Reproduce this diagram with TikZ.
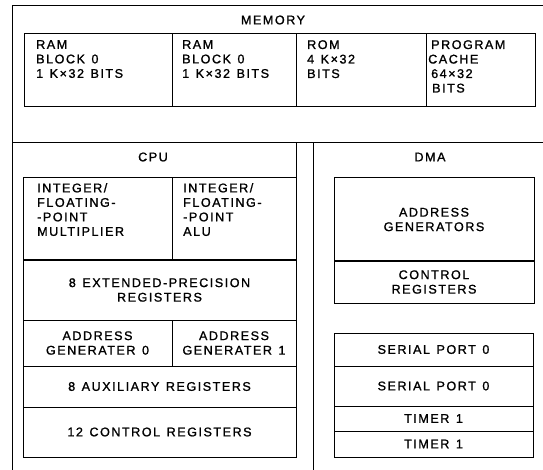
\documentclass[tikz,border=0pt]{standalone}
\usepackage{fontspec}
\newfontfamily\reff[LetterSpace=12,FakeBold=1.2,WordSpace=1.3]{Liberation Sans}
\begin{document}
\begin{tikzpicture}[x=1pt,y=-1pt,
  box/.style={draw, line width=1pt, inner sep=0pt, outer sep=0pt, anchor=north west},
  frame/.style={line width=1pt},
  txt/.style={font=\reff\fontsize{12.6}{14.5}\selectfont, align=left, inner sep=0pt, anchor=north west},
  ctxt/.style={font=\reff\fontsize{12.6}{14.5}\selectfont, align=center, inner sep=0pt}]
\useasboundingbox (0,0) rectangle (543,470);
% MEMORY
\draw[frame] (543,6) -- (12,6) -- (12,143) -- (543,143);
\node[ctxt] (memlbl) at (273,20) {MEMORY};
\node[box, minimum width=148pt, minimum height=73pt] (ram0) at (24,34) {};
\node[box, minimum width=124pt, minimum height=73pt] (ram1) at (172,34) {};
\node[box, minimum width=130pt, minimum height=73pt] (rom) at (296,34) {};
\node[box, minimum width=109pt, minimum height=73pt] (cache) at (426,34) {};
\node[txt] (ram0t) at (36,40) {RAM\\BLOCK 0\\1 K×32 BITS};
\node[txt] (ram1t) at (182,40) {RAM\\BLOCK 0\\1 K×32 BITS};
\node[txt] (romt) at (307,40) {ROM\\4 K×32\\BITS};
\node[txt] (cachet) at (428,40) {\hspace*{3pt}PROGRAM\\CACHE\\\hspace*{3pt}64×32\\\hspace*{4pt}BITS};
% CPU
\draw[frame] (12,143) -- (12,470);
\draw[frame] (296,143) -- (296,178);
\node[ctxt] (cpulbl) at (153,157) {CPU};
\node[box, minimum width=149pt, minimum height=82pt] (mul) at (23,178) {};
\node[box, minimum width=124pt, minimum height=82pt] (alu) at (172,178) {};
\node[txt] (mult) at (37,183) {INTEGER/\\FLOATING-\\-POINT\\MULTIPLIER};
\node[txt] (alut) at (183,183) {INTEGER/\\FLOATING-\\-POINT\\ALU};
\node[box, minimum width=273pt, minimum height=60pt] (ext) at (23,260) {};
\node[ctxt] (extt) at (ext.center) {8 EXTENDED-PRECISION\\REGISTERS};
\node[box, minimum width=149pt, minimum height=46pt] (ag0) at (23,320) {};
\node[box, minimum width=124pt, minimum height=46pt] (ag1) at (172,320) {};
\node[ctxt] (ag0t) at (ag0.center) {ADDRESS\\GENERATER 0};
\node[ctxt] (ag1t) at (ag1.center) {ADDRESS\\GENERATER 1};
\node[box, minimum width=273pt, minimum height=41pt] (aux) at (23,366) {};
\node[ctxt] (auxt) at (aux.center) {8 AUXILIARY REGISTERS};
\node[box, minimum width=273pt, minimum height=50pt] (ctrl) at (23,407) {};
\node[ctxt] (ctrlt) at (ctrl.center) {12 CONTROL REGISTERS};
% DMA
\draw[frame] (313,143) -- (313,470);
\node[ctxt] (dmalbl) at (430,157) {DMA};
\node[box, minimum width=200pt, minimum height=83pt] (dag) at (334,178) {};
\node[ctxt] (dagt) at (dag.center) {ADDRESS\\GENERATORS};
\node[box, minimum width=200pt, minimum height=42pt] (dcr) at (334,261) {};
\node[ctxt] (dcrt) at (dcr.center) {CONTROL\\REGISTERS};
\node[box, minimum width=199pt, minimum height=33pt] (sp0) at (334,333) {};
\node[ctxt] (sp0t) at (sp0.center) {SERIAL PORT 0};
\node[box, minimum width=199pt, minimum height=40pt] (sp1) at (334,366) {};
\node[ctxt] (sp1t) at (sp1.center) {SERIAL PORT 0};
\node[box, minimum width=199pt, minimum height=25pt] (tm0) at (334,406) {};
\node[ctxt] (tm0t) at (tm0.center) {TIMER 1};
\node[box, minimum width=199pt, minimum height=26pt] (tm1) at (334,431) {};
\node[ctxt] (tm1t) at (tm1.center) {TIMER 1};
\end{tikzpicture}
\end{document}
